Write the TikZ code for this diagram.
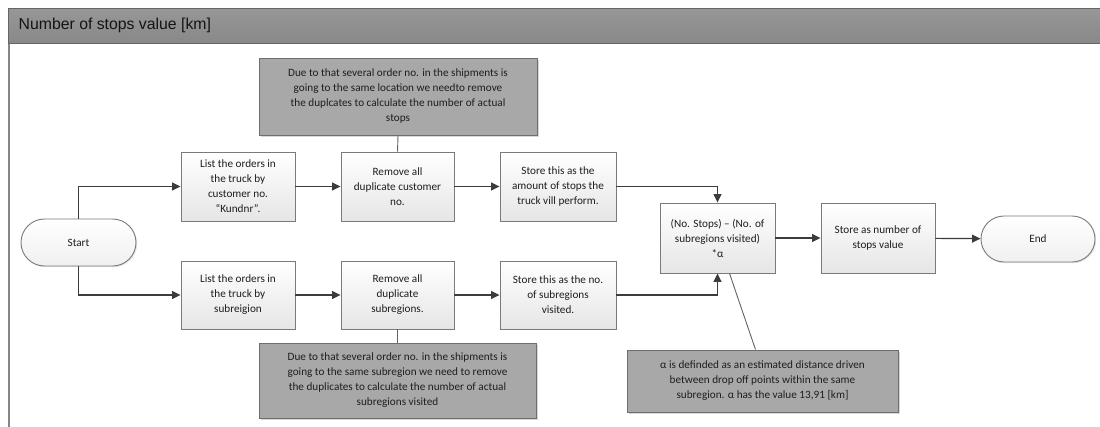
\documentclass[tikz,border=0pt]{standalone}
\usepackage{fontspec}
\setmainfont{Carlito}
\newfontfamily\headfont{Liberation Sans}
\usetikzlibrary{shapes.misc,shadows,arrows.meta,calc}

\definecolor{linegray}{HTML}{3C3C3C}
\definecolor{boxedge}{HTML}{7A7A7A}
\definecolor{notefill}{HTML}{A8A8A8}
\definecolor{noteedge}{HTML}{6E6E6E}
\definecolor{headfill}{HTML}{8E8E8E}
\definecolor{headedge}{HTML}{666666}
\definecolor{txt}{HTML}{1E1E1E}

\tikzset{
  every node/.style={font=\fontsize{11.2}{15}\selectfont, text=txt, align=center, inner sep=0pt},
  procbox/.style={draw=boxedge, line width=0.9pt, top color=white, bottom color=black!10,
    drop shadow={shadow xshift=1.2pt, shadow yshift=-1.2pt, opacity=0.25}},
  termbox/.style={draw=boxedge, line width=0.9pt, rounded rectangle, top color=white, bottom color=black!6,
    drop shadow={shadow xshift=1.2pt, shadow yshift=-1.2pt, opacity=0.2}},
  notebox/.style={draw=noteedge, line width=0.9pt, fill=notefill,
    drop shadow={shadow xshift=1.5pt, shadow yshift=-1.5pt, opacity=0.3}},
  flow/.style={draw=linegray, line width=1.2pt, -{Triangle[length=8.5pt,width=8pt]}},
  link/.style={draw=linegray!80, line width=0.9pt},
}

\begin{document}
\begin{tikzpicture}[x=1pt, y=-1pt]
\useasboundingbox (0,0) rectangle (1100,426);
\fill[white] (0,0) rectangle (1100,426);

% swimlane header and left border
\draw[headedge!80!white, line width=1.4pt] (9,43) -- (9,427);
\draw[draw=headedge, line width=1pt, top color=headfill!92!white, bottom color=headfill!96!black] (8,8) rectangle (1102,43);
\node[anchor=west, font=\headfont\fontsize{15.8}{18}\selectfont, text=black!92] (title) at (18.5,25.5) {Number of stops value [km]};

% terminals
\node[termbox, minimum width=115pt, minimum height=47pt] (start) at (78.5,242.5) {Start};
\node[termbox, minimum width=114pt, minimum height=46pt] (end) at (1038,239) {End};

% upper branch
\node[procbox, minimum width=114pt, minimum height=69pt] (list1) at (238,186.5)
  {List the orders in\\the truck by\\customer no.\\“Kundnr”.};
\node[procbox, minimum width=113pt, minimum height=69pt] (rem1) at (397.5,186.5)
  {Remove all\\duplicate customer\\no.};
\node[procbox, minimum width=116pt, minimum height=69pt] (store1) at (558,186.5)
  {Store this as the\\amount of stops the\\truck vill perform.};

% lower branch
\node[procbox, minimum width=114pt, minimum height=68pt] (list2) at (238,295)
  {List the orders in\\the truck by\\subreigion};
\node[procbox, minimum width=113pt, minimum height=68pt] (rem2) at (397.5,295)
  {Remove all\\duplicate\\subregions.};
\node[procbox, minimum width=116pt, minimum height=68pt] (store2) at (558,295)
  {Store this as the no.\\of subregions\\visited.};

% merge and output
\node[procbox, minimum width=115pt, minimum height=70pt] (combine) at (717.5,238)
  {(No. Stops) – (No. of\\subregions visited)\\*α};
\node[procbox, minimum width=114pt, minimum height=70pt] (final) at (878,238)
  {Store as number of\\stops value};

% annotations
\node[notebox, minimum width=278pt, minimum height=77pt] (note1) at (398,96.5)
  {Due to that several order no. in the shipments is\\going to the same location we needto remove\\the duplcates to calculate the number of actual\\stops};
\node[notebox, minimum width=277pt, minimum height=75pt] (note2) at (397.5,380.5)
  {Due to that several order no. in the shipments is\\going to the same subregion we need to remove\\the duplicates to calculate the number of actual\\subregions visited};
\node[notebox, minimum width=271pt, minimum height=62pt] (note3) at (762.5,381)
  {α is definded as an estimated distance driven\\between drop off points within the same\\subregion. α has the value 13,91 [km]};

% annotation links
\draw[link] (note1.south) -- (rem1.north);
\draw[link] (note2.north) -- (rem2.south);
\draw[link] ($(combine.south)+(12,0)$) -- ($(note3.north)+(-7,0)$);

% flow connectors
\draw[flow] (start.north) |- (list1.west);
\draw[flow] (start.south) |- (list2.west);
\draw[flow] (list1) -- (rem1);
\draw[flow] (rem1) -- (store1);
\draw[flow] (list2) -- (rem2);
\draw[flow] (rem2) -- (store2);
\draw[flow] (store1.east) -| (combine.north);
\draw[flow] (store2.east) -| (combine.south);
\draw[flow] (combine) -- (final);
\draw[flow] (final) -- (end);
\end{tikzpicture}
\end{document}
